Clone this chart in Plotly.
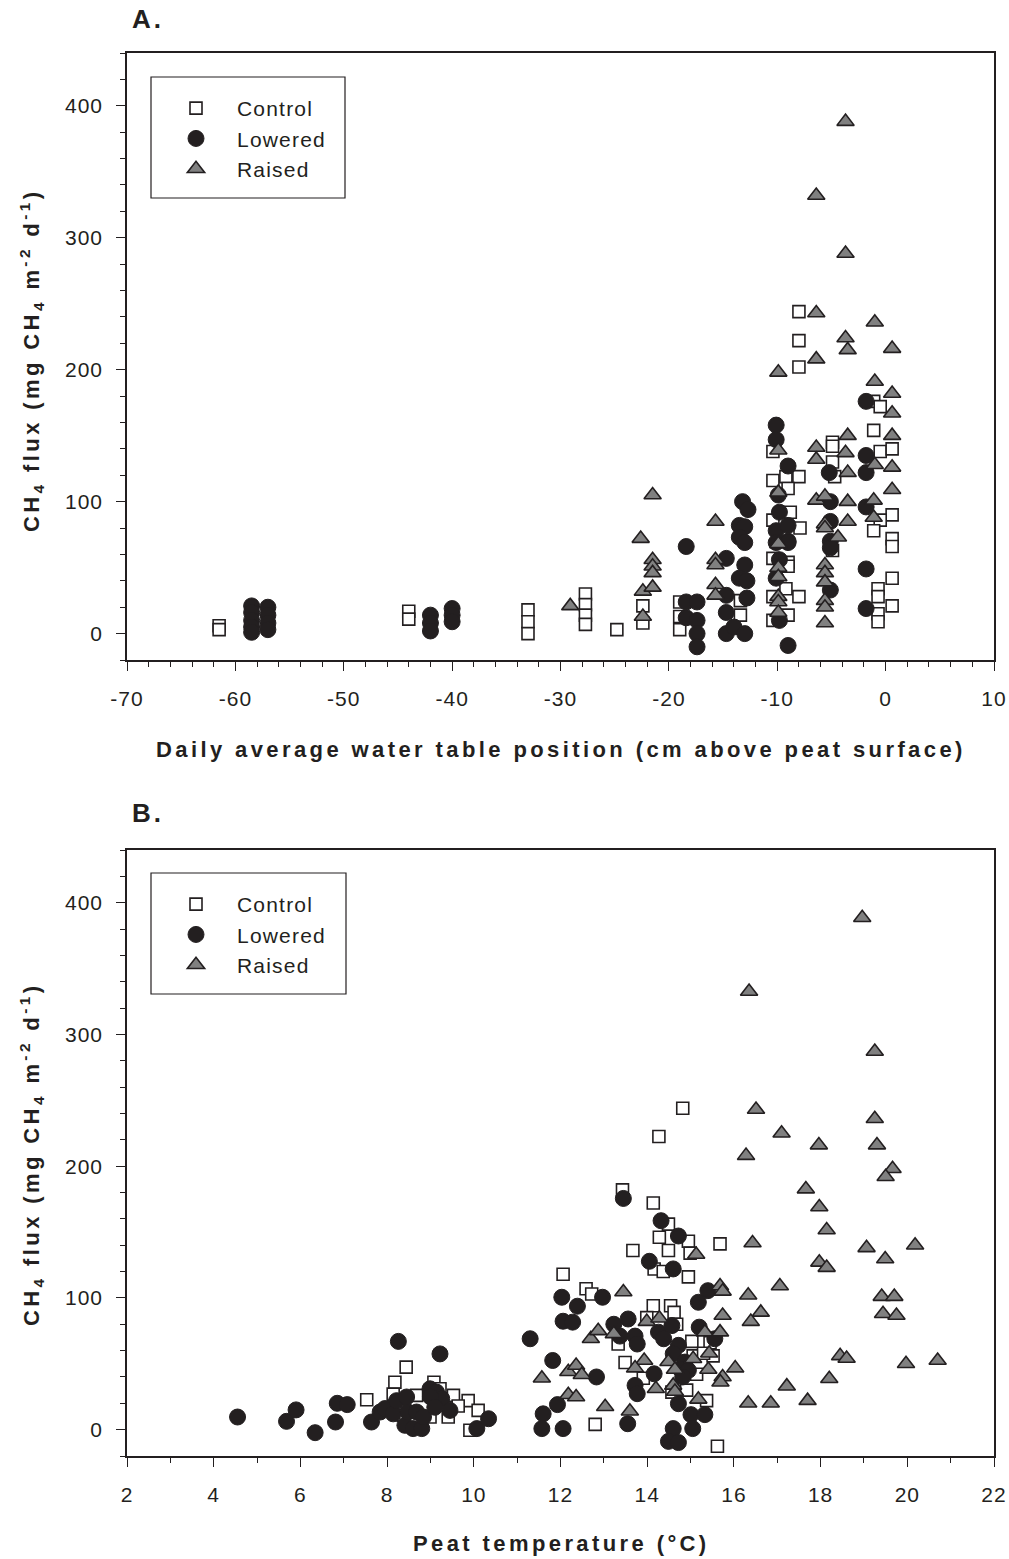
import plotly.graph_objects as go

# ---------------- Panel A: water table position vs CH4 flux ----------------
wt_control = [-61.5, -61.5, -44, -44, -33, -33, -33, -27.7, -27.7, -27.7, -27.7, -24.8,
              -22.4, -22.4, -19.0, -19.0, -19.0, -13.4, -13.4,
              -10.4, -10.4, -10.4, -10.4, -10.4, -10.4,
              -9.2, -8.0, -9.0, -8.8, -7.9, -9.0, -9.0, -9.2, -8.0, -9.0,
              -8.0, -8.0, -8.0,
              -4.9, -4.9, -4.9, -4.7, -4.9,
              -1.1, -0.5, -1.1, -0.5, 0.6, 0.6, -0.5, -1.1, 0.6, 0.6, 0.6, -0.7, -0.7, 0.6, -0.7, -0.7]
flux_control_a = [6, 3, 17, 11, 18, 9, 0, 30, 22, 14, 7, 3,
                  21, 8, 24, 13, 3, 25, 14,
                  138, 116, 86, 57, 28, 10,
                  119, 119, 110, 92, 80, 54, 51, 34, 28, 14,
                  244, 222, 202,
                  145, 142, 130, 119, 63,
                  176, 172, 154, 138, 140, 90, 86, 78, 72, 66, 42, 34, 28, 21, 15, 9]

wt_lowered = [-58.5, -58.5, -58.5, -58.5, -58.5, -57, -57, -57, -57,
              -42, -42, -42, -40, -40, -40,
              -18.4, -18.4, -18.4, -17.4, -17.4, -17.4, -17.4,
              -13.2, -12.7, -13.5, -13.0, -13.5, -13.0, -14.7, -13.0, -13.5, -12.8, -14.7, -12.8, -14.7, -14.7, -14.0, -13.0,
              -10.1, -10.1, -9.0, -9.9, -9.8, -10.1, -9.0, -10.1, -9.0, -9.8, -10.1, -9.8, -9.0, -9.0,
              -5.2, -5.1, -5.1, -5.1, -5.1, -5.1,
              -1.8, -1.8, -1.8, -1.8, -1.8, -1.8]
flux_lowered_a = [21, 16, 10, 5, 1, 20, 14, 8, 3,
                  14, 8, 2, 19, 14, 9,
                  66, 24, 12, 24, 10, 0, -10,
                  100, 94, 82, 81, 73, 69, 57, 52, 42, 40, 29, 27, 16, 0, 5, 0,
                  158, 147, 127, 105, 92, 78, 82, 69, 70, 56, 42, 10, -9, 69,
                  122, 100, 85, 70, 65, 33,
                  176, 135, 122, 96, 49, 19]

wt_raised = [-29.1, -22.6, -22.4, -22.4, -21.5, -21.5, -21.5, -21.5, -21.5,
             -15.7, -15.7, -15.7, -15.7, -15.7,
             -9.9, -9.9, -9.9, -9.9, -9.9, -9.9, -9.9, -9.9, -9.9,
             -6.4, -6.4, -6.4, -6.4, -6.4, -6.4,
             -5.6, -5.6, -5.6, -5.6, -5.6, -5.6, -5.6, -5.6, -5.6,
             -3.7, -3.7, -3.7, -3.5, -3.5, -3.7, -3.5, -3.5, -3.5, -4.4,
             -1.0, -1.0, -1.0, -1.1, -1.1,
             0.6, 0.6, 0.6, 0.6, 0.6, 0.6]
flux_raised_a = [21, 72, 32, 13, 105, 56, 51, 46, 35,
                 85, 56, 52, 37, 29,
                 198, 139, 107, 68, 50, 43, 28, 24, 16,
                 332, 243, 208, 141, 132, 101,
                 104, 83, 80, 52, 46, 39, 25, 20, 8,
                 388, 288, 224, 215, 150, 137, 122, 100, 85, 73,
                 236, 191, 128, 101, 88,
                 216, 182, 167, 150, 126, 109]

# ---------------- Panel B: peat temperature vs CH4 flux ----------------
temp_control = [7.53, 8.18, 8.44, 8.14, 9.08, 9.22, 9.53, 9.87, 9.64, 10.1, 9.91, 8.68, 8.99, 9.41, 8.37,
                12.06, 12.59, 12.72, 12.8,
                13.43, 14.14, 14.49, 14.28, 14.49, 14.95, 13.67, 14.99, 15.68, 14.16, 14.37, 14.95,
                14.82, 14.27, 14.14, 14.54, 13.99, 14.62, 14.68, 13.33, 15.03, 15.45, 15.52, 13.49,
                15.06, 15.3, 15.14, 13.91, 14.57, 14.91, 15.37, 15.62]
flux_control_b = [22.7, 36, 47.5, 27, 36, 31, 26, 22, 18, 14.6, -0.5, 26, 9.6, 9.6, 11,
                  118, 107, 103, 4,
                  182, 172, 156, 146, 136, 143, 136, 134, 141, 122, 120, 116,
                  244, 222.5, 94, 94, 85, 89, 80, 65, 67, 66, 56, 51,
                  56, 58, 42, 39, 28.5, 30, 22, -12.6]

temp_lowered = [4.55, 5.68, 5.9, 6.34, 6.81, 6.85, 7.08, 8.26, 9.22, 7.64, 7.84, 7.95, 8.14, 8.22, 8.45,
                8.41, 8.6, 8.8, 8.48, 8.68, 8.84, 8.99, 9.14, 9.26, 9.45, 9.0, 9.1, 10.07, 10.34,
                11.3, 11.82, 11.93, 11.6, 11.57, 12.06, 12.03, 12.39, 12.06, 12.28, 12.83, 12.97,
                13.45, 14.32, 14.72, 14.05, 14.6, 15.4, 15.18, 13.23, 13.56, 13.37, 13.72, 13.77,
                15.2, 14.26, 14.57, 14.38, 14.72, 14.6, 14.87, 14.76, 14.95, 14.82, 15.56, 14.16,
                13.72, 13.77, 14.72, 13.55, 15.01, 15.33, 15.05, 14.6, 14.49, 14.72]
flux_lowered_b = [9.6, 6.3, 15, -2.3, 5.8, 20, 19, 67, 57.5, 5.8, 13.4, 16, 12, 22, 24.8,
                  3.3, 0.8, 0.8, 13.4, 13.4, 9.6, 31, 28.5, 23.5, 14.6, 25, 17, 0.8, 8.3,
                  69, 52.5, 19, 12, 0.8, 0.8, 100.5, 93.7, 82.3, 81.6, 40, 100.5,
                  175.5, 158.6, 147, 127.8, 122, 105.5, 96.7, 80, 84, 71, 71, 65,
                  77.8, 74, 79, 69, 64, 57.6, 51.3, 46, 45, 40, 69, 42.4,
                  33.6, 27.3, 19.7, 4.5, 11.4, 11.4, 0.8, 0.8, -8.9, -9.8]

temp_raised = [18.96, 16.35, 19.25, 16.51, 19.25, 17.1, 17.96, 19.3, 16.28, 19.66, 19.5, 17.66, 17.97,
               18.14, 16.43, 19.06, 20.18, 19.49, 17.97, 18.14, 15.13, 17.06, 15.68, 15.74, 16.33,
               19.41, 19.7, 19.44, 19.75, 15.74, 16.62, 16.39, 13.45, 18.45, 18.6, 19.97, 20.7,
               18.2, 17.22, 16.03, 16.33, 16.85, 17.7, 13.03, 13.6, 11.57, 12.18, 12.36, 12.49,
               12.18, 12.36, 12.7, 12.87, 13.23, 13.99, 14.28, 13.93, 13.72, 14.49, 14.64, 15.06,
               14.2, 14.6, 14.64, 15.18, 15.33, 15.68, 15.43, 15.41, 15.74, 15.69]
flux_raised_b = [388.6, 332.6, 287, 243, 236, 225, 216, 216, 208, 198, 192, 182.6, 169,
                 151.5, 141.7, 138, 140, 129.5, 127, 123, 133, 109, 109, 105, 102,
                 101, 101, 88, 86.6, 86.6, 89, 82, 104.5, 56, 54, 50, 52.5,
                 38.6, 33, 46.7, 20, 20, 22, 17.4, 14, 39, 44, 48.7, 41.7,
                 26.5, 24.8, 69, 75, 72.7, 82, 84.6, 52.5, 46.7, 51.5, 45.7, 53.8,
                 31, 33.6, 29, 23, 74, 74, 58, 45.7, 40, 36]

series_names = ["Control", "Lowered", "Raised"]
wt_ticks = [-70, -60, -50, -40, -30, -20, -10, 0, 10]
temp_ticks = [2, 4, 6, 8, 10, 12, 14, 16, 18, 20, 22]
flux_ticks = [0, 100, 200, 300, 400]

# ---------------- styling ----------------
W, H = 1009, 1559
INK = "#231f20"
FONT = "Liberation Sans, Arial, sans-serif"
styles = {
    "Control": dict(symbol="square", size=12, color="white", line=dict(color=INK, width=1.6)),
    "Lowered": dict(symbol="circle", size=16, color=INK, line=dict(color=INK, width=1)),
    "Raised": dict(symbol="triangle-up", size=15, color="#808080", line=dict(color=INK, width=1.6)),
}


def px(x):
    return x / W


def py(y):
    return 1 - y / H


def spaced(s, sp):
    return '<span style="letter-spacing:%spx">%s</span>' % (sp, s)


fig = go.Figure()
panelA = [(wt_control, flux_control_a), (wt_lowered, flux_lowered_a), (wt_raised, flux_raised_a)]
panelB = [(temp_control, flux_control_b), (temp_lowered, flux_lowered_b), (temp_raised, flux_raised_b)]
for name, (xs, ys) in zip(series_names, panelA):
    fig.add_trace(go.Scatter(x=xs, y=ys, mode="markers", name=spaced(name, 1.2), marker=styles[name],
                             xaxis="x", yaxis="y", legend="legend"))
for name, (xs, ys) in zip(series_names, panelB):
    fig.add_trace(go.Scatter(x=xs, y=ys, mode="markers", name=spaced(name, 1.2), marker=styles[name],
                             xaxis="x2", yaxis="y2", legend="legend2"))

tickfont = dict(family=FONT, size=21, color=INK)
common_ax = dict(showline=True, mirror=True, linecolor=INK, linewidth=1.6, showgrid=False,
                 zeroline=False, ticks="outside", ticklen=9, tickwidth=1.4, tickcolor=INK,
                 tickfont=tickfont, automargin=False)


def tick_labels(vals):
    return [spaced(str(v), 1) for v in vals]


xdom = [px(127), px(994)]
fig.update_layout(
    width=W, height=H, margin=dict(l=0, r=0, t=0, b=0, autoexpand=False),
    paper_bgcolor="white", plot_bgcolor="white",
    xaxis=dict(domain=xdom, range=[-70, 10], tickmode="array", tickvals=wt_ticks, ticktext=tick_labels(wt_ticks),
               anchor="y",
               minor=dict(ticks="outside", ticklen=5, dtick=2, tick0=0, tickwidth=1.2, tickcolor=INK),
               ticklabelstandoff=10, **common_ax),
    yaxis=dict(domain=[py(660), py(53)], range=[-20, 440], tickmode="array", tickvals=flux_ticks,
               ticktext=tick_labels(flux_ticks), anchor="x",
               minor=dict(ticks="outside", ticklen=5, dtick=20, tick0=0, tickwidth=1.2, tickcolor=INK),
               ticklabelstandoff=9, **common_ax),
    xaxis2=dict(domain=xdom, range=[2, 22], tickmode="array", tickvals=temp_ticks, ticktext=tick_labels(temp_ticks),
                anchor="y2",
                minor=dict(ticks="outside", ticklen=5, dtick=1, tick0=0, tickwidth=1.2, tickcolor=INK),
                ticklabelstandoff=10, **common_ax),
    yaxis2=dict(domain=[py(1456), py(850)], range=[-20, 440], tickmode="array", tickvals=flux_ticks,
                ticktext=tick_labels(flux_ticks), anchor="x2",
                minor=dict(ticks="outside", ticklen=5, dtick=20, tick0=0, tickwidth=1.2, tickcolor=INK),
                ticklabelstandoff=9, **common_ax),
    legend=dict(x=px(155), y=py(88), xanchor="left", yanchor="top", bgcolor="rgba(0,0,0,0)",
                borderwidth=0, itemwidth=72, font=dict(family=FONT, size=21, color=INK),
                itemclick=False),
    legend2=dict(x=px(155), y=py(884), xanchor="left", yanchor="top", bgcolor="rgba(0,0,0,0)",
                 borderwidth=0, itemwidth=72, font=dict(family=FONT, size=21, color=INK),
                 itemclick=False),
    showlegend=True,
)

# legend frames
for (x0, y0, x1, y1) in [(151, 77, 345, 198), (151, 873, 346, 994)]:
    fig.add_shape(type="rect", xref="paper", yref="paper", x0=px(x0), x1=px(x1), y0=py(y1), y1=py(y0),
                  line=dict(color=INK, width=1.2), fillcolor="rgba(0,0,0,0)", layer="above")

ytitle = "CH<sub>4</sub> flux (mg CH<sub>4</sub> m<sup>-2</sup> d<sup>-1</sup>)"
ann_font = dict(family=FONT, size=22, color=INK)
SP = 3.4
annotations = [
    dict(text="<b>" + spaced("A.", 3) + "</b>", x=px(130), y=py(19), xanchor="left", yanchor="middle",
         font=dict(family=FONT, size=26, color=INK)),
    dict(text="<b>" + spaced("B.", 3) + "</b>", x=px(130), y=py(813), xanchor="left", yanchor="middle",
         font=dict(family=FONT, size=26, color=INK)),
    dict(text="<b>" + spaced("Daily average water table position (cm above peat surface)", SP) + "</b>",
         x=px(561), y=py(749), xanchor="center", yanchor="middle", font=ann_font),
    dict(text="<b>" + spaced("Peat temperature (°C)", SP) + "</b>", x=px(561), y=py(1543),
         xanchor="center", yanchor="middle", font=ann_font),
    dict(text="<b>" + spaced(ytitle, SP) + "</b>", x=px(31), y=py(361), xanchor="center", yanchor="middle",
         textangle=-90, font=ann_font),
    dict(text="<b>" + spaced(ytitle, SP) + "</b>", x=px(31), y=py(1155), xanchor="center", yanchor="middle",
         textangle=-90, font=ann_font),
]
for a in annotations:
    a.update(xref="paper", yref="paper", showarrow=False)
fig.update_layout(annotations=annotations)

fig.write_html("out.html")
